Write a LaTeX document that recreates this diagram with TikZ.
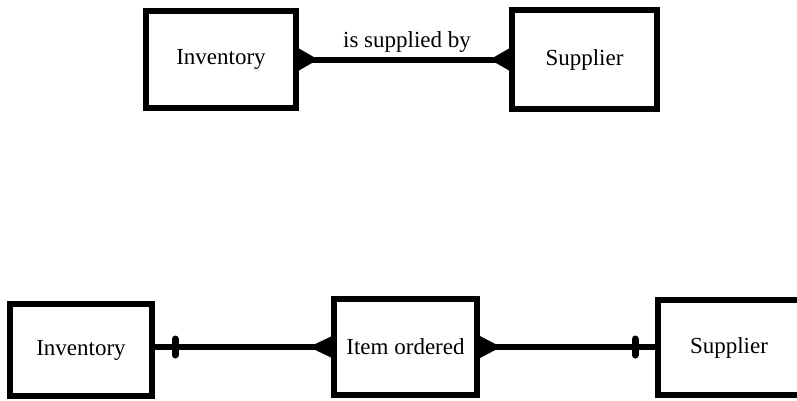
\documentclass[tikz,border=0pt]{standalone}
\usepackage{fontspec}
\setmainfont{Liberation Serif}
\usetikzlibrary{calc}
\begin{document}
\begin{tikzpicture}[x=1pt,y=-1pt,
  entity/.style={draw, line width=6pt, inner sep=0pt, font=\fontsize{23}{27}\selectfont},
  rel/.style={line width=6pt},
  barmark/.style={line width=7pt, line cap=round}]
\useasboundingbox (0,0) rectangle (797,400);
% top diagram
\node[entity, minimum width=150pt, minimum height=97pt] (inv1) at (221,59.5) {Inventory};
\node[entity, minimum width=145pt, minimum height=99pt] (sup1) at (584.5,59.5) {Supplier};
\node[font=\fontsize{23}{27}\selectfont, inner sep=0pt] (lbl) at (407,42) {is supplied by};
\draw[rel] (inv1.east) -- (sup1.west);
\fill ($(inv1.east)+(0,-11)$) -- ($(inv1.east)+(0,11)$) -- ($(inv1.east)+(19,0)$) -- cycle;
\fill ($(sup1.west)+(0,-11)$) -- ($(sup1.west)+(0,11)$) -- ($(sup1.west)+(-19,0)$) -- cycle;
% bottom diagram
\node[entity, minimum width=142pt, minimum height=92pt] (inv2) at (81,350) {Inventory};
\node[entity, minimum width=143pt, minimum height=96pt] (item) at (405.5,347) {Item ordered};
\node[entity, minimum width=142pt, minimum height=95pt] (sup2) at (729,347.5) {Supplier};
\draw[rel] (inv2.east |- item.west) -- (item.west);
\draw[rel] (item.east) -- (sup2.west |- item.east);
\draw[barmark] ($(inv2.east |- item.west)+(20,-8)$) -- ($(inv2.east |- item.west)+(20,8)$);
\draw[barmark] ($(sup2.west |- item.east)+(-20,-8)$) -- ($(sup2.west |- item.east)+(-20,8)$);
\fill ($(item.west)+(0,-10.5)$) -- ($(item.west)+(0,10.5)$) -- ($(item.west)+(-22,0)$) -- cycle;
\fill ($(item.east)+(0,-11)$) -- ($(item.east)+(0,11)$) -- ($(item.east)+(21,0)$) -- cycle;
\end{tikzpicture}
\end{document}
